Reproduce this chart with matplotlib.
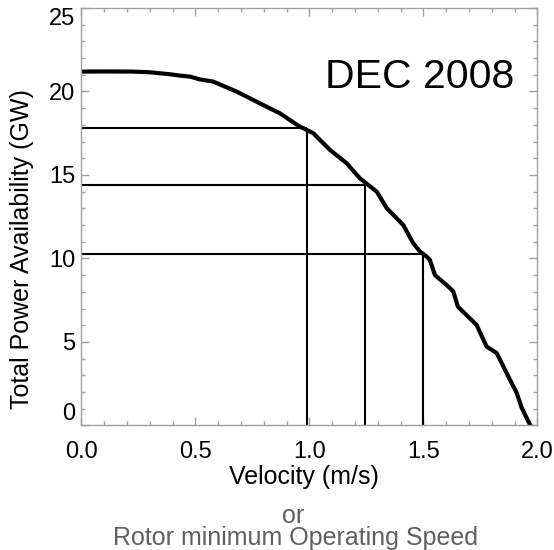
import matplotlib
matplotlib.use("Agg")
import matplotlib.pyplot as plt

plt.rcParams["font.family"] = ["Liberation Sans", "DejaVu Sans"]

# power availability curve (GW) vs velocity (m/s)
velocity = [0.0, 0.10, 0.226, 0.30, 0.388, 0.432, 0.476, 0.52, 0.578, 0.681, 0.768,
            0.841, 0.871, 0.914, 0.958, 0.973, 1.017, 1.032, 1.09, 1.163, 1.221,
            1.295, 1.339, 1.411, 1.455, 1.485, 1.514, 1.528, 1.550, 1.616, 1.631,
            1.651, 1.733, 1.777, 1.821, 1.880, 1.909, 1.931, 1.967]
power = [21.19, 21.20, 21.19, 21.15, 21.03, 20.95, 20.89, 20.72, 20.59, 19.99, 19.39,
         18.89, 18.69, 18.29, 17.89, 17.80, 17.50, 17.29, 16.50, 15.70, 14.80,
         14.00, 13.01, 12.01, 10.91, 10.41, 10.11, 9.91, 9.01, 8.23, 8.01,
         7.11, 6.02, 4.72, 4.34, 2.72, 1.95, 1.05, 0.05]

# reference speeds and the power
ref_speed = [0.99, 1.243, 1.496]
ref_power = [17.8, 14.4, 10.25]

x_ticks = [0.0, 0.5, 1.0, 1.5, 2.0]
x_labels = ["0.0", "0.5", "1.0", "1.5", "2.0"]
y_ticks = [0, 5, 10, 15, 20, 25]
y_labels = ["0", "5", "10", "15", "20", "25"]

frame = "#a0a0a0"

fig = plt.figure(figsize=(5.54, 5.50), dpi=100)
ax = fig.add_axes([0.1471, 0.2264, 0.8231, 0.7591])

for xs, ys in zip(ref_speed, ref_power):
    ax.plot([0, xs], [ys, ys], color="black", lw=1.5, solid_capstyle="butt")
    ax.plot([xs, xs], [0, ys], color="black", lw=1.5, solid_capstyle="butt")

ax.plot(velocity, power, color="black", lw=3.0, solid_joinstyle="round")

ax.set_xlim(0, 2.0)
ax.set_ylim(0, 25)
ax.set_xticks(x_ticks)
ax.set_xticklabels(x_labels)
ax.set_xticks([i / 10 for i in range(21)], minor=True)
ax.set_yticks(y_ticks)
ax.set_yticklabels(y_labels)
ax.set_yticks(range(26), minor=True)

ax.tick_params(which="both", direction="in", top=True, right=True, color=frame,
               width=1.0, labelsize=17)
ax.tick_params(which="major", length=6)
ax.tick_params(which="minor", length=3)
ax.tick_params(axis="x", pad=11)
ax.tick_params(axis="y", pad=4.5)
for s in ax.spines.values():
    s.set_color(frame)
    s.set_linewidth(1.0)

ylabs = ax.get_yticklabels()
ylabs[0].set_va("bottom")
ylabs[-1].set_va("top")

ax.text(1.068, 20.19, "DEC 2008", fontsize=29.5, ha="left", va="baseline")

fig.text(0.04, 0.547, "Total Power Availability (GW)", rotation=90,
         fontsize=18, ha="center", va="center")
fig.text(0.548, 0.12, "Velocity (m/s)", fontsize=18, ha="center", va="baseline")
fig.text(0.530, 0.0491, "or", fontsize=18, ha="center", va="baseline", color="#5f5f5f")
fig.text(0.533, 0.0091, "Rotor minimum Operating Speed", fontsize=18,
         ha="center", va="baseline", color="#5f5f5f")

fig.savefig("out.png", dpi=100)
